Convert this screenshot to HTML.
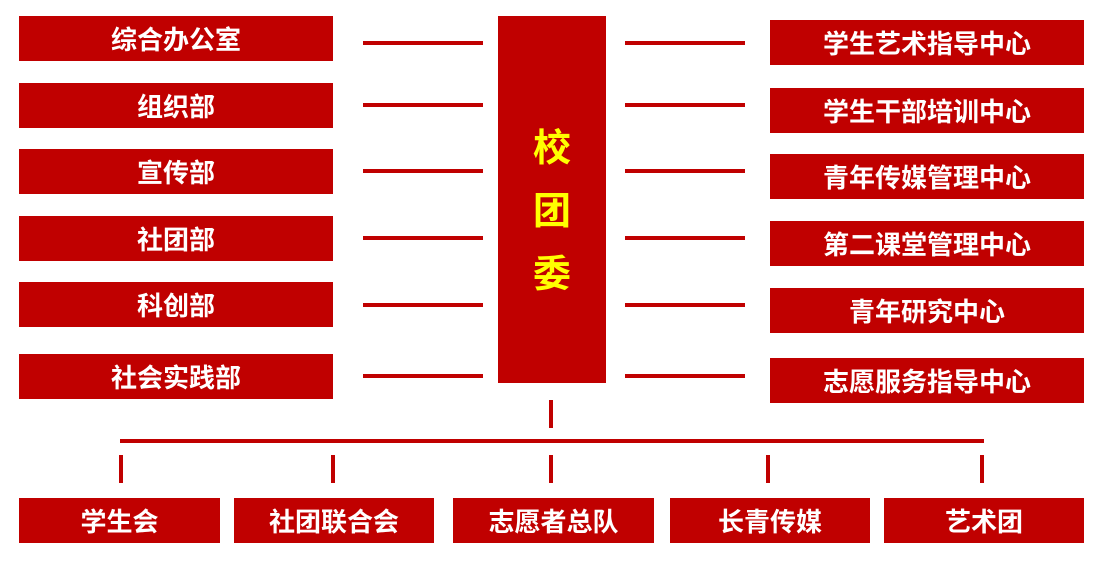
<!DOCTYPE html>
<html><head><meta charset="utf-8"><style>
body{margin:0;width:1115px;height:567px;background:#fff;position:relative;overflow:hidden;font-family:"Liberation Sans","Noto Sans CJK SC",sans-serif}
.b{position:absolute;background:#c00000;color:#fff;font-weight:bold;font-size:26px;display:flex;align-items:center;justify-content:center;height:45px}
.l{position:absolute;background:#c00000;height:4px;width:120px}
.v{position:absolute;background:#c00000;width:4px}
</style></head><body>
<div class="b" style="left:19px;top:16px;width:314px">综合办公室</div>
<div class="b" style="left:19px;top:83px;width:314px">组织部</div>
<div class="b" style="left:19px;top:149px;width:314px">宣传部</div>
<div class="b" style="left:19px;top:216px;width:314px">社团部</div>
<div class="b" style="left:19px;top:282px;width:314px">科创部</div>
<div class="b" style="left:19px;top:354px;width:314px">社会实践部</div>

<div class="b" style="left:498px;top:16px;width:108px;height:367px;color:#ffff00;font-size:38px;line-height:63px;text-align:center;padding-top:26px;box-sizing:border-box">校<br>团<br>委</div>

<div class="b" style="left:770px;top:20px;width:314px">学生艺术指导中心</div>
<div class="b" style="left:770px;top:88px;width:314px">学生干部培训中心</div>
<div class="b" style="left:770px;top:154px;width:314px">青年传媒管理中心</div>
<div class="b" style="left:770px;top:221px;width:314px">第二课堂管理中心</div>
<div class="b" style="left:770px;top:288px;width:314px">青年研究中心</div>
<div class="b" style="left:770px;top:358px;width:314px">志愿服务指导中心</div>

<div class="l" style="left:363px;top:41px"></div>
<div class="l" style="left:363px;top:103px"></div>
<div class="l" style="left:363px;top:169px"></div>
<div class="l" style="left:363px;top:236px"></div>
<div class="l" style="left:363px;top:303px"></div>
<div class="l" style="left:363px;top:374px"></div>
<div class="l" style="left:625px;top:41px"></div>
<div class="l" style="left:625px;top:103px"></div>
<div class="l" style="left:625px;top:169px"></div>
<div class="l" style="left:625px;top:236px"></div>
<div class="l" style="left:625px;top:303px"></div>
<div class="l" style="left:625px;top:374px"></div>

<div class="v" style="left:549px;top:400px;height:28px"></div>
<div class="l" style="left:120px;top:439px;width:864px"></div>
<div class="v" style="left:119px;top:455px;height:28px"></div>
<div class="v" style="left:331px;top:455px;height:28px"></div>
<div class="v" style="left:549px;top:455px;height:28px"></div>
<div class="v" style="left:766px;top:455px;height:28px"></div>
<div class="v" style="left:980px;top:455px;height:28px"></div>

<div class="b" style="left:19px;top:498px;width:201px">学生会</div>
<div class="b" style="left:234px;top:498px;width:200px">社团联合会</div>
<div class="b" style="left:453px;top:498px;width:201px">志愿者总队</div>
<div class="b" style="left:670px;top:498px;width:200px">长青传媒</div>
<div class="b" style="left:884px;top:498px;width:200px">艺术团</div>
</body></html>
